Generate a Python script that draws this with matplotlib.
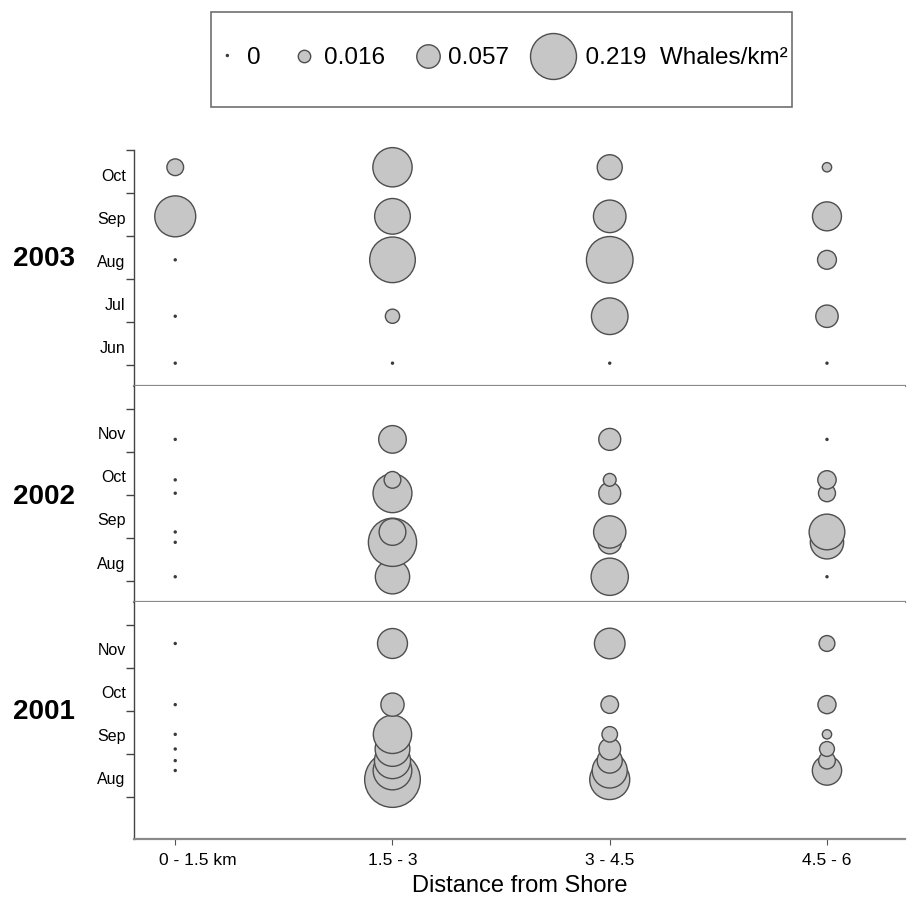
import numpy as np
import matplotlib.pyplot as plt
from matplotlib.patches import Rectangle
from matplotlib.transforms import ScaledTranslation

plt.rcParams['font.family'] = ['Liberation Sans', 'DejaVu Sans']

# ------------------------------------------------------------
# data : survey dates (month number + fraction of month) and
# whale density (whales/km2) per distance band
# ------------------------------------------------------------
distance_labels = ['0 - 1.5 km', '1.5 - 3', '3 - 4.5', '4.5 - 6']

dates_2003 = [6.05, 7.14, 8.45, 9.46, 10.60]
density_2003 = [
    [0, 0, 0, 0.174, 0.029],            # 0 - 1.5
    [0, 0.021, 0.216, 0.132, 0.160],    # 1.5 - 3
    [0, 0.139, 0.225, 0.110, 0.065],    # 3 - 4.5
    [0, 0.052, 0.037, 0.087, 0.009],    # 4.5 - 6
]

dates_2002 = [8.10, 8.90, 9.14, 10.04, 10.35, 11.29]
density_2002 = [
    [0, 0, 0, 0, 0, 0],
    [0.122, 0.241, 0.074, 0.157, 0.029, 0.079],
    [0.144, 0.056, 0.108, 0.050, 0.017, 0.050],
    [0, 0.115, 0.132, 0.030, 0.035, 0],
]

dates_2001 = [8.40, 8.61, 8.84, 9.11, 9.45, 10.14, 11.56]
density_2001 = [
    [np.nan, 0, 0, 0, 0, 0, 0],
    [0.321, 0.155, 0.135, 0.125, 0.152, 0.056, 0.093],
    [0.166, 0.127, 0.065, 0.049, 0.025, 0.032, 0.097],
    [0, 0.089, 0.029, 0.023, 0.009, 0.034, 0.026],
]

years = ['2003', '2002', '2001']
months_2003 = ['Jun', 'Jul', 'Aug', 'Sep', 'Oct']
months_2002 = ['Aug', 'Sep', 'Oct', 'Nov']
months_2001 = ['Aug', 'Sep', 'Oct', 'Nov']

legend_values = [0, 0.016, 0.057, 0.219]
legend_labels = ['0', '0.016', '0.057', '  0.219  Whales/km\u00b2']

# ------------------------------------------------------------
# style
# ------------------------------------------------------------
bubble_scale = 5000      # marker area (pt^2) per whale/km2
dot_size = 6
fill = '#c6c6c6'
edge = '#4e4e4e'
dot_color = '#3a3a3a'

panels = [
    (years[0], dates_2003, density_2003, months_2003, 6, (5.51, 11.0), 0.54),
    (years[1], dates_2002, density_2002, months_2002, 8, (7.51, 12.52), 0.488),
    (years[2], dates_2001, density_2001, months_2001, 8, (7.02, 12.52), 0.536),
]

fig = plt.figure(figsize=(9.07, 9.0), dpi=100)
gs = fig.add_gridspec(3, 1, height_ratios=[p[5][1] - p[5][0] for p in panels],
                      hspace=0, left=0.1477, right=0.998, top=0.8333, bottom=0.0678)

x_pos = np.arange(1, len(distance_labels) + 1)
down = ScaledTranslation(0, -0.03, fig.dpi_scale_trans)

for i, (year, dates, density, months, first_month, ylim, year_y) in enumerate(panels):
    ax = fig.add_subplot(gs[i])
    dates = np.array(dates)

    for col, vals in enumerate(density):
        vals = np.array(vals, dtype=float)
        ok = ~np.isnan(vals)
        v = vals[ok]
        sizes = np.where(v > 0, bubble_scale * v, dot_size)
        faces = [fill if a > 0 else dot_color for a in v]
        edges = [edge if a > 0 else 'none' for a in v]
        lws = [1.0 if a > 0 else 0 for a in v]
        ax.scatter(np.full(ok.sum(), x_pos[col]), dates[ok], s=sizes, clip_on=False,
                   facecolors=faces, edgecolors=edges, linewidths=lws, zorder=3)

    ax.set_xlim(0.81, 4.36)
    ax.set_ylim(*ylim)

    for side in ['top', 'right']:
        ax.spines[side].set_visible(False)
    ax.spines['left'].set_color('#444444')
    ax.spines['left'].set_linewidth(1.0)
    ax.spines['bottom'].set_color('#8a8a8a')
    ax.spines['bottom'].set_linewidth(1.6)

    # month boundaries as ticks, month names in between
    ax.set_yticks(np.arange(first_month, first_month + len(months) + 1))
    ax.set_yticklabels([])
    ax.set_yticks(np.arange(first_month, first_month + len(months)) + 0.5, minor=True)
    ax.set_yticklabels(months, minor=True)
    ax.tick_params(axis='y', which='major', length=6, width=1, color='#444444', direction='out')
    ax.tick_params(axis='y', which='minor', length=0, pad=6, labelsize=11.5)
    for lab in ax.get_yticklabels(minor=True):
        lab.set_transform(lab.get_transform() + down)

    ax.text(-0.117, year_y, year, transform=ax.transAxes, ha='center', va='center',
            fontsize=20, fontweight='bold')

    if i < 2:
        ax.tick_params(axis='x', bottom=False, labelbottom=False)
    else:
        ax.set_xticks(x_pos)
        ax.set_xticklabels(distance_labels)
        ax.tick_params(axis='x', length=4, color='#555555', labelsize=12.5, pad=6)
        first = ax.get_xticklabels()[0]
        first.set_ha('left')
        first.set_transform(first.get_transform() + ScaledTranslation(-0.16, 0, fig.dpi_scale_trans))
        ax.set_xlabel('Distance from Shore', fontsize=17, labelpad=5)

# legend box at the top
handles = []
for val in legend_values:
    if val > 0:
        h = ax.scatter([], [], s=bubble_scale * val, facecolors=fill, edgecolors=edge, linewidths=1.0)
    else:
        h = ax.scatter([], [], s=dot_size, facecolors=dot_color, edgecolors='none')
    handles.append(h)

fig.add_artist(Rectangle((211 / 907, 1 - 107 / 900), 581 / 907, 95 / 900,
                         transform=fig.transFigure, fill=False, edgecolor='#707070', linewidth=1.2))
fig.legend(handles, legend_labels, loc='center', bbox_to_anchor=(501.5 / 907, 1 - 58 / 900),
           ncol=4, frameon=False, fontsize=17.5, handlelength=1.0, handletextpad=0.3,
           columnspacing=1.3, scatteryoffsets=[0.5])

fig.savefig('out.png', dpi=100)
